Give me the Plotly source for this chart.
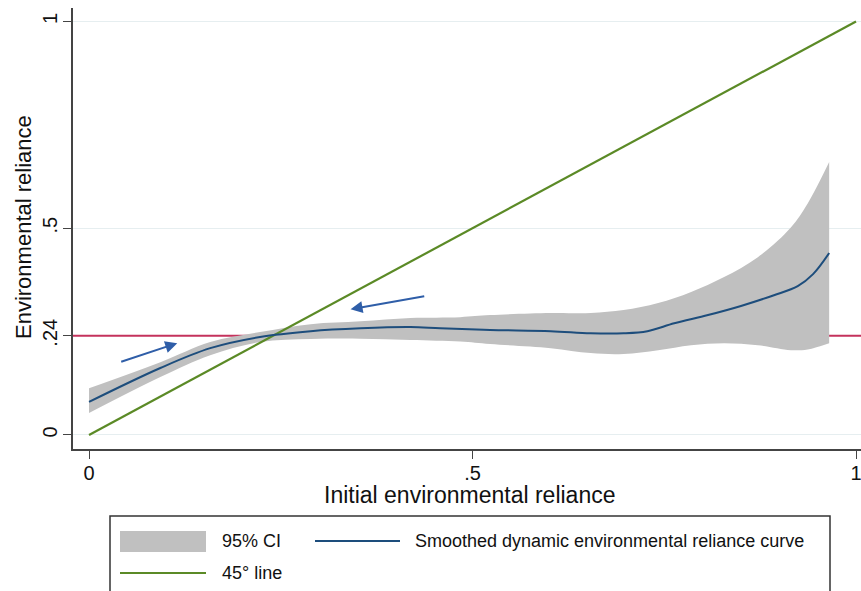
import plotly.graph_objects as go

# ---- data ----
curve_x = [0.0, 0.093, 0.158, 0.223, 0.289, 0.354, 0.419, 0.458, 0.523, 0.602, 0.654,
           0.697, 0.728, 0.763, 0.807, 0.850, 0.893, 0.924, 0.944, 0.965]
curve_y = [0.080, 0.162, 0.210, 0.237, 0.251, 0.258, 0.261, 0.258, 0.254, 0.251, 0.246,
           0.246, 0.251, 0.270, 0.290, 0.312, 0.338, 0.360, 0.389, 0.440]

ci_x = [0.0, 0.093, 0.158, 0.223, 0.289, 0.354, 0.419, 0.484, 0.523, 0.602, 0.654,
        0.697, 0.742, 0.785, 0.828, 0.872, 0.915, 0.937, 0.965]
ci_upper = [0.113, 0.176, 0.225, 0.249, 0.268, 0.275, 0.283, 0.285, 0.290, 0.295, 0.295,
            0.302, 0.319, 0.346, 0.382, 0.430, 0.502, 0.560, 0.660]
ci_lower = [0.053, 0.140, 0.193, 0.225, 0.232, 0.233, 0.230, 0.226, 0.220, 0.210, 0.198,
            0.196, 0.205, 0.217, 0.222, 0.217, 0.205, 0.207, 0.222]

diag_x = [0.0, 1.0]
diag_y = [0.0, 1.0]
ref_level = 0.24

x_ticks = [0, 0.5, 1]
x_ticklabels = ["0", ".5", "1"]
y_ticks = [0, 0.24, 0.5, 1]
y_ticklabels = ["0", ".24", ".5", "1"]

# arrows: (tail_x, tail_y, head_x, head_y)
arrows = [(0.040, 0.176, 0.115, 0.222), (0.439, 0.336, 0.341, 0.304)]

X_RANGE = [-0.0209, 1.0065]
Y_RANGE = [-0.0339, 1.0326]

BLUE = "#1d4d7c"
GREEN = "#5b8a26"
RED = "#c4325c"
GRAY = "#c0c0c0"
ARROW = "#2f5ea8"
FONT = "Liberation Sans, Arial, sans-serif"

fig = go.Figure()

# red reference line (beneath the band)
fig.add_trace(go.Scatter(x=X_RANGE, y=[ref_level, ref_level], mode="lines",
                         line=dict(color=RED, width=2), showlegend=False, hoverinfo="skip"))
# CI band
fig.add_trace(go.Scatter(x=ci_x, y=ci_lower, mode="lines", line=dict(width=0, color=GRAY),
                         line_shape="spline", showlegend=False, hoverinfo="skip"))
fig.add_trace(go.Scatter(x=ci_x, y=ci_upper, mode="lines", line=dict(width=0, color=GRAY),
                         line_shape="spline", fill="tonexty", fillcolor=GRAY, showlegend=False,
                         hoverinfo="skip"))
# 45 degree line
fig.add_trace(go.Scatter(x=diag_x, y=diag_y, mode="lines", line=dict(color=GREEN, width=2.2),
                         showlegend=False))
# smoothed curve
fig.add_trace(go.Scatter(x=curve_x, y=curve_y, mode="lines", line=dict(color=BLUE, width=2),
                         line_shape="spline", showlegend=False))

annotations = []
for tx, ty, hx, hy in arrows:
    annotations.append(dict(x=hx, y=hy, ax=tx, ay=ty, xref="x", yref="y", axref="x", ayref="y",
                            showarrow=True, arrowhead=2, arrowsize=1.2, arrowwidth=2,
                            arrowcolor=ARROW, text=""))

L, T, PW, PH = 73, 8, 788, 441
def px(xp):
    return (xp - L) / PW
def py(yp):
    return (T + PH - yp) / PH

# axis titles
annotations.append(dict(x=px(470), y=py(495), xref="paper", yref="paper", showarrow=False,
                        text="Initial environmental reliance", font=dict(size=23, color="#111", family=FONT),
                        xanchor="center", yanchor="middle"))
annotations.append(dict(x=px(23), y=py(227), xref="paper", yref="paper", showarrow=False,
                        text="Environmental reliance", textangle=-90,
                        font=dict(size=22, color="#111", family=FONT),
                        xanchor="center", yanchor="middle"))

# legend (drawn manually to match the reference layout)
shapes = []
shapes.append(dict(type="rect", xref="paper", yref="paper", x0=px(110), x1=px(830), y0=py(600), y1=py(516),
                   line=dict(color="#333", width=1.5), fillcolor="rgba(0,0,0,0)"))
shapes.append(dict(type="rect", xref="paper", yref="paper", x0=px(120), x1=px(206), y0=py(552), y1=py(531),
                   line=dict(width=0), fillcolor=GRAY))
shapes.append(dict(type="line", xref="paper", yref="paper", x0=px(315), x1=px(400), y0=py(541), y1=py(541),
                   line=dict(color=BLUE, width=2)))
shapes.append(dict(type="line", xref="paper", yref="paper", x0=px(120), x1=px(206), y0=py(573), y1=py(573),
                   line=dict(color=GREEN, width=2)))
for text, x0, yc in [("95% CI", 220, 541), ("Smoothed dynamic environmental reliance curve", 413, 541),
                     ("45° line", 220, 573)]:
    annotations.append(dict(x=px(x0), y=py(yc), xref="paper", yref="paper", showarrow=False, text=text,
                            font=dict(size=18, color="#111", family=FONT), xanchor="left", yanchor="middle"))

fig.update_layout(
    width=861, height=591,
    margin=dict(l=L, r=861 - L - PW, t=T, b=591 - T - PH, autoexpand=False),
    paper_bgcolor="white", plot_bgcolor="white",
    font=dict(family=FONT, color="#111"),
    annotations=annotations, shapes=shapes,
    xaxis=dict(range=X_RANGE, tickvals=x_ticks, ticktext=x_ticklabels, showgrid=False, zeroline=False,
               automargin=False, ticklabeloverflow="allow",
               showline=True, linecolor="#444", linewidth=1.5, ticks="outside", ticklen=8, tickwidth=1.2,
               tickcolor="#444", tickfont=dict(size=20, color="#111"), ticklabelstandoff=-3),
    yaxis=dict(range=Y_RANGE, tickvals=y_ticks, ticktext=y_ticklabels, showgrid=True, gridcolor="#e6eef0",
               automargin=False, ticklabeloverflow="allow",
               gridwidth=1.2, zeroline=False, showline=True, linecolor="#444", linewidth=1.5,
               ticks="outside", ticklen=8, tickwidth=1.2, tickcolor="#444", tickangle=-90,
               tickfont=dict(size=20, color="#111"), ticklabelstandoff=-2),
)

fig.write_html("out.html", config={"displayModeBar": False},
               post_script="document.body.style.margin='0px';")
